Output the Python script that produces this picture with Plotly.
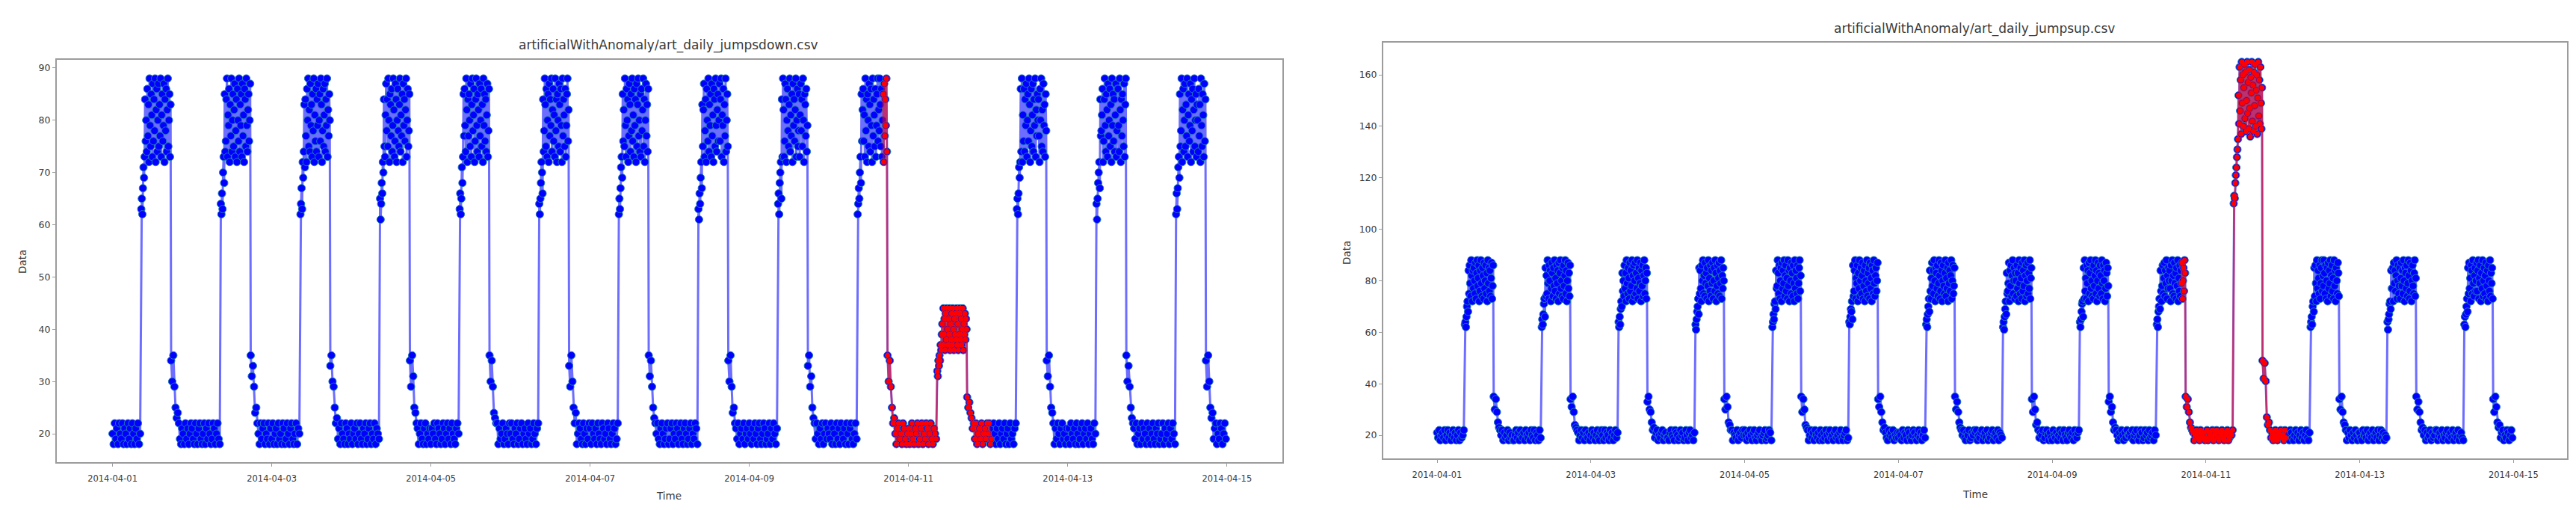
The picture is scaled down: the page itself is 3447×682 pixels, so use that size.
import pandas as pd
import plotly.graph_objects as go

# ---------------- data ----------------
days = ["2014-04-01", "2014-04-02", "2014-04-03", "2014-04-04", "2014-04-05", "2014-04-06", "2014-04-07",
        "2014-04-08", "2014-04-09", "2014-04-10", "2014-04-11", "2014-04-12", "2014-04-13", "2014-04-14"]
# sampling schedule within a day (minutes after midnight): 20-min steps at night, 10-min steps in the busy hours
sample_minutes = list(range(0, 501, 20)) + list(range(520, 1051, 10)) + list(range(1060, 1421, 20))
anomaly_start = "2014-04-10 16:20"
anomaly_end = "2014-04-12 01:00"
tick_labels = ["2014-04-01", "2014-04-03", "2014-04-05", "2014-04-07", "2014-04-09", "2014-04-11",
               "2014-04-13", "2014-04-15"]
left_yticks = [20, 30, 40, 50, 60, 70, 80, 90]
right_yticks = [20, 40, 60, 80, 100, 120, 140, 160]
title_left = "artificialWithAnomaly/art_daily_jumpsdown.csv"
title_right = "artificialWithAnomaly/art_daily_jumpsup.csv"

# art_daily_jumpsdown (one list per day)
jd_0401 = [20, 18, 22, 19, 21, 18, 22, 20, 19, 22, 18, 21, 20,
           18, 22, 19, 21, 18, 22, 20, 18, 21, 19, 22, 18, 20,
           63, 65, 62, 67, 71, 69, 73, 84, 76,
           80, 74, 86, 77, 83, 72, 88, 79, 75, 85, 81, 73, 87, 76, 84,
           78, 88, 72, 82, 86, 74, 80, 87, 75, 83, 77, 88, 73, 81, 85,
           76, 79, 87, 72, 84, 78, 86, 74, 82, 88, 75, 80, 85, 73, 83,
           34, 30, 35, 29, 25, 23, 24,
           22, 19, 18, 21, 20, 18, 22, 19, 21, 18, 20, 22]
jd_0402 = [21, 19, 18, 22, 20, 18, 21, 22, 19, 18, 20, 22, 18,
           21, 19, 22, 20, 18, 19, 22, 21, 18, 20, 22, 19, 18,
           64, 62, 66, 63, 70, 73, 68, 85, 74,
           76, 84, 88, 73, 81, 79, 86, 72, 83, 77, 88, 74, 80, 85, 75,
           82, 87, 73, 78, 84, 72, 86, 80, 76, 88, 74, 83, 79, 85, 73,
           87, 77, 81, 72, 86, 84, 75, 88, 79, 74, 82, 85, 76, 80, 87,
           35, 31, 33, 29, 24, 25, 22,
           20, 18, 22, 19, 21, 22, 18, 20, 19, 22, 18, 21]
jd_0403 = [19, 22, 18, 20, 21, 18, 22, 19, 20, 18, 22, 21, 18,
           19, 22, 20, 18, 21, 22, 19, 18, 20, 22, 18, 21, 20,
           62, 64, 67, 63, 72, 69, 74, 83, 71,
           84, 77, 72, 86, 80, 88, 75, 82, 74, 87, 79, 83, 73, 85, 78,
           88, 72, 81, 76, 86, 74, 84, 79, 87, 73, 80, 85, 76, 88, 83,
           72, 78, 86, 75, 81, 87, 74, 84, 79, 88, 73, 82, 77, 85, 80,
           33, 35, 30, 29, 25, 22, 23,
           19, 21, 18, 22, 20, 19, 18, 22, 21, 18, 20, 19]
jd_0404 = [22, 18, 20, 21, 19, 22, 18, 20, 22, 19, 18, 21, 20,
           22, 18, 19, 21, 22, 18, 20, 19, 22, 18, 21, 20, 19,
           65, 61, 64, 68, 66, 72, 70, 84, 75,
           73, 81, 87, 78, 84, 75, 88, 80, 72, 85, 83, 77, 86, 74, 79,
           88, 82, 73, 76, 87, 84, 72, 80, 86, 78, 75, 83, 88, 74, 81,
           77, 85, 72, 87, 79, 84, 76, 82, 88, 73, 80, 86, 75, 78, 85,
           34, 29, 35, 31, 25, 24, 22,
           21, 18, 20, 22, 19, 18, 21, 22, 18, 20, 19, 21]
jd_0405 = [18, 21, 20, 22, 19, 18, 22, 21, 20, 18, 19, 22, 21,
           18, 20, 22, 19, 21, 18, 22, 20, 19, 18, 21, 22, 20,
           63, 66, 62, 65, 71, 68, 73, 85, 77,
           86, 79, 74, 88, 82, 72, 84, 77, 85, 80, 75, 87, 73, 83, 88,
           78, 81, 86, 72, 76, 84, 88, 79, 74, 85, 82, 73, 87, 77, 80,
           86, 75, 83, 72, 88, 79, 85, 76, 84, 74, 81, 87, 73, 78, 86,
           35, 30, 34, 29, 24, 23, 22,
           22, 18, 21, 19, 20, 22, 18, 19, 21, 20, 18, 22]
jd_0406 = [20, 22, 19, 18, 21, 20, 22, 18, 19, 21, 22, 18, 20,
           21, 19, 18, 22, 20, 21, 18, 19, 22, 20, 18, 21, 22,
           64, 62, 65, 68, 72, 70, 66, 84, 74,
           78, 88, 83, 75, 86, 73, 80, 85, 72, 87, 77, 84, 79, 88, 74,
           82, 86, 76, 81, 73, 88, 78, 84, 72, 85, 80, 75, 87, 83, 74,
           86, 79, 72, 88, 77, 84, 81, 75, 86, 73, 79, 85, 88, 76, 82,
           33, 29, 35, 30, 25, 22, 24,
           18, 20, 22, 21, 19, 18, 22, 20, 18, 21, 19, 22]
jd_0407 = [21, 18, 22, 20, 19, 21, 18, 22, 20, 19, 18, 22, 21,
           19, 20, 18, 22, 21, 19, 18, 20, 22, 21, 18, 19, 22,
           62, 65, 63, 67, 71, 73, 69, 85, 76,
           82, 75, 88, 79, 73, 86, 80, 84, 72, 77, 87, 83, 74, 85, 78,
           88, 76, 81, 73, 86, 79, 84, 72, 87, 75, 83, 88, 77, 80, 74,
           85, 73, 86, 78, 82, 88, 75, 84, 72, 80, 87, 77, 83, 74, 86,
           35, 31, 34, 29, 25, 23, 22,
           20, 22, 19, 18, 21, 22, 20, 18, 19, 21, 22, 18]
jd_0408 = [19, 21, 22, 18, 20, 19, 22, 21, 18, 20, 22, 19, 18,
           21, 22, 20, 18, 19, 21, 22, 18, 20, 19, 22, 21, 18,
           63, 61, 66, 64, 69, 72, 67, 83, 75,
           82, 87, 73, 78, 84, 72, 86, 80, 76, 88, 74, 83, 79, 85, 73,
           87, 77, 81, 72, 86, 84, 75, 88, 79, 74, 82, 85, 76, 80, 87,
           76, 84, 88, 73, 81, 79, 86, 72, 83, 77, 88, 74, 80, 85, 75,
           34, 30, 35, 29, 24, 25, 22,
           21, 19, 22, 18, 20, 21, 19, 22, 18, 20, 21, 19]
jd_0409 = [22, 20, 18, 21, 19, 22, 20, 18, 21, 22, 19, 18, 20,
           22, 21, 18, 19, 20, 22, 18, 21, 19, 22, 20, 18, 21,
           64, 66, 62, 68, 70, 72, 65, 84, 73,
           88, 82, 73, 76, 87, 84, 72, 80, 86, 78, 75, 83, 88, 74, 81,
           77, 85, 72, 87, 79, 84, 76, 82, 88, 73, 80, 86, 75, 78, 85,
           73, 81, 87, 78, 84, 75, 88, 80, 72, 85, 83, 77, 86, 74, 79,
           33, 35, 29, 31, 25, 23, 22,
           19, 22, 20, 18, 21, 19, 22, 18, 20, 22, 19, 21]
jd_0410 = [20, 19, 22, 18, 21, 20, 18, 22, 19, 21, 18, 22, 20,
           19, 21, 18, 22, 20, 18, 21, 22, 19, 18, 20, 22, 19,
           62, 64, 67, 65, 70, 73, 68, 85, 76,
           82, 86, 76, 81, 73, 88, 78, 84, 72, 85, 80, 75, 87, 83, 74,
           86, 79, 72, 88, 77, 84, 81, 75, 86, 73, 79, 85, 88, 76, 82,
           78, 88, 83, 75, 86, 73, 80, 85, 72, 87, 77, 84, 79, 88, 74,
           35, 30, 34, 29, 25, 22, 23,
           20, 18, 21, 22, 19, 20, 18, 22, 21, 19, 18, 20]
jd_0411 = [21, 18, 20, 22, 19, 18, 21, 20, 22, 18, 19, 21, 22,
           18, 20, 19, 22, 21, 18, 20, 22, 19, 18, 21, 20, 19,
           32, 31, 34, 33, 35, 34, 37, 36, 39,
           41, 37, 44, 39, 42, 36, 43, 38, 44, 40, 37, 42, 39, 44, 36,
           41, 38, 43, 37, 44, 40, 36, 42, 39, 43, 38, 44, 37, 41, 36,
           43, 39, 44, 38, 42, 37, 40, 44, 36, 41, 39, 43, 38, 42, 40,
           27, 25, 26, 24, 23, 21, 22,
           19, 22, 18, 20, 21, 19, 22, 18, 20, 21, 19, 22]
jd_0412 = [20, 22, 18, 19, 21, 22, 20, 18, 21, 19, 22, 18, 20,
           21, 19, 22, 18, 20, 21, 18, 22, 19, 20, 18, 21, 22,
           63, 65, 62, 66, 71, 69, 72, 86, 74,
           88, 72, 81, 76, 86, 74, 84, 79, 87, 73, 80, 85, 76, 88, 83,
           72, 78, 86, 75, 81, 87, 74, 84, 79, 88, 73, 82, 77, 85, 80,
           84, 77, 72, 86, 80, 88, 75, 82, 74, 87, 79, 83, 73, 85, 78,
           34, 31, 35, 29, 25, 24, 22,
           18, 21, 19, 22, 20, 18, 21, 22, 19, 20, 18, 21]
jd_0413 = [19, 21, 18, 22, 20, 19, 21, 18, 22, 20, 18, 19, 21,
           22, 18, 20, 21, 19, 22, 18, 20, 21, 19, 18, 22, 20,
           64, 61, 65, 68, 70, 72, 67, 84, 77,
           78, 81, 86, 72, 76, 84, 88, 79, 74, 85, 82, 73, 87, 77, 80,
           86, 75, 83, 72, 88, 79, 85, 76, 84, 74, 81, 87, 73, 78, 86,
           86, 79, 74, 88, 82, 72, 84, 77, 85, 80, 75, 87, 73, 83, 88,
           35, 30, 33, 29, 25, 23, 22,
           21, 19, 22, 18, 20, 21, 18, 22, 19, 21, 20, 18]
jd_0414 = [22, 19, 21, 18, 20, 22, 19, 18, 21, 20, 22, 18, 19,
           20, 22, 18, 21, 19, 20, 22, 18, 21, 19, 22, 20, 18,
           62, 66, 63, 67, 71, 73, 69, 85, 75,
           78, 88, 72, 82, 86, 74, 80, 87, 75, 83, 77, 88, 73, 81, 85,
           76, 79, 87, 72, 84, 78, 86, 74, 82, 88, 75, 80, 85, 73, 83,
           80, 74, 86, 77, 83, 72, 88, 79, 75, 85, 81, 73, 87, 76, 84,
           34, 29, 35, 30, 25, 23, 24,
           19, 21, 22, 18, 20, 19, 22, 21, 18, 20, 22, 19]

# art_daily_jumpsup (one list per day)
ju_0401 = [21, 19, 22, 18, 20, 21, 19, 22, 18, 20, 22, 19, 21,
           18, 20, 22, 19, 21, 18, 20, 22, 18, 21, 19, 20, 22,
           63, 64, 62, 66, 70, 72, 68, 84, 75,
           86, 79, 74, 88, 82, 72, 84, 77, 85, 80, 75, 87, 73, 83, 88,
           78, 81, 86, 72, 76, 84, 88, 79, 74, 85, 82, 73, 87, 77, 80,
           86, 75, 83, 72, 88, 79, 85, 76, 84, 74, 81, 87, 73, 78, 86,
           35, 30, 34, 29, 25, 23, 22,
           20, 22, 18, 21, 19, 20, 22, 18, 21, 19, 20, 18]
ju_0402 = [18, 20, 22, 19, 21, 18, 22, 20, 19, 21, 18, 22, 20,
           19, 21, 18, 22, 20, 19, 22, 18, 21, 20, 18, 22, 19,
           62, 65, 63, 67, 71, 73, 66, 85, 74,
           82, 75, 88, 79, 73, 86, 80, 84, 72, 77, 87, 83, 74, 85, 78,
           88, 76, 81, 73, 86, 79, 84, 72, 87, 75, 83, 88, 77, 80, 74,
           85, 73, 86, 78, 82, 88, 75, 84, 72, 80, 87, 77, 83, 74, 86,
           34, 31, 35, 29, 24, 23, 22,
           21, 18, 20, 22, 19, 21, 18, 22, 20, 19, 21, 18]
ju_0403 = [20, 22, 19, 21, 18, 20, 22, 19, 18, 21, 22, 20, 18,
           22, 19, 21, 20, 18, 22, 19, 21, 18, 20, 22, 19, 21,
           64, 62, 66, 63, 69, 72, 70, 83, 76,
           80, 74, 86, 77, 83, 72, 88, 79, 75, 85, 81, 73, 87, 76, 84,
           78, 88, 72, 82, 86, 74, 80, 87, 75, 83, 77, 88, 73, 81, 85,
           76, 79, 87, 72, 84, 78, 86, 74, 82, 88, 75, 80, 85, 73, 83,
           33, 35, 30, 29, 25, 22, 23,
           19, 21, 22, 18, 20, 19, 21, 22, 18, 20, 21, 19]
ju_0404 = [19, 18, 21, 22, 20, 19, 18, 22, 21, 20, 18, 19, 22,
           20, 21, 18, 19, 22, 20, 18, 21, 22, 19, 20, 18, 21,
           63, 61, 65, 68, 70, 73, 67, 85, 75,
           84, 77, 72, 86, 80, 88, 75, 82, 74, 87, 79, 83, 73, 85, 78,
           88, 72, 81, 76, 86, 74, 84, 79, 87, 73, 80, 85, 76, 88, 83,
           72, 78, 86, 75, 81, 87, 74, 84, 79, 88, 73, 82, 77, 85, 80,
           34, 30, 35, 31, 25, 24, 22,
           22, 18, 21, 20, 19, 22, 18, 20, 21, 19, 22, 20]
ju_0405 = [22, 20, 18, 21, 19, 22, 20, 18, 21, 22, 19, 18, 20,
           21, 22, 19, 18, 20, 21, 22, 18, 19, 20, 22, 21, 18,
           62, 64, 67, 65, 71, 72, 69, 84, 77,
           78, 88, 83, 75, 86, 73, 80, 85, 72, 87, 77, 84, 79, 88, 74,
           82, 86, 76, 81, 73, 88, 78, 84, 72, 85, 80, 75, 87, 83, 74,
           86, 79, 72, 88, 77, 84, 81, 75, 86, 73, 79, 85, 88, 76, 82,
           35, 29, 34, 30, 24, 23, 22,
           18, 20, 22, 19, 21, 18, 22, 20, 19, 21, 18, 22]
ju_0406 = [20, 18, 21, 19, 22, 20, 18, 21, 22, 19, 20, 18, 21,
           22, 19, 20, 18, 21, 22, 19, 18, 20, 21, 22, 18, 19,
           64, 63, 66, 69, 68, 72, 65, 86, 74,
           76, 84, 88, 73, 81, 79, 86, 72, 83, 77, 88, 74, 80, 85, 75,
           82, 87, 73, 78, 84, 72, 86, 80, 76, 88, 74, 83, 79, 85, 73,
           87, 77, 81, 72, 86, 84, 75, 88, 79, 74, 82, 85, 76, 80, 87,
           34, 31, 35, 29, 25, 22, 23,
           21, 19, 18, 22, 20, 21, 19, 22, 18, 20, 19, 21]
ju_0407 = [19, 21, 20, 18, 22, 19, 21, 20, 18, 22, 21, 19, 18,
           20, 22, 21, 19, 18, 20, 22, 19, 21, 18, 20, 22, 19,
           63, 65, 62, 67, 70, 73, 68, 84, 76,
           73, 81, 87, 78, 84, 75, 88, 80, 72, 85, 83, 77, 86, 74, 79,
           88, 82, 73, 76, 87, 84, 72, 80, 86, 78, 75, 83, 88, 74, 81,
           77, 85, 72, 87, 79, 84, 76, 82, 88, 73, 80, 86, 75, 78, 85,
           35, 30, 33, 29, 25, 23, 22,
           20, 22, 19, 18, 21, 20, 22, 18, 19, 21, 20, 22]
ju_0408 = [21, 22, 18, 20, 19, 21, 22, 18, 20, 21, 19, 22, 18,
           20, 19, 21, 22, 18, 20, 21, 19, 22, 18, 21, 20, 19,
           62, 64, 61, 66, 69, 72, 67, 83, 75,
           76, 79, 87, 72, 84, 78, 86, 74, 82, 88, 75, 80, 85, 73, 83,
           80, 74, 86, 77, 83, 72, 88, 79, 75, 85, 81, 73, 87, 76, 84,
           78, 88, 72, 82, 86, 74, 80, 87, 75, 83, 77, 88, 73, 81, 85,
           34, 29, 35, 30, 24, 25, 22,
           19, 21, 20, 22, 18, 19, 21, 22, 20, 18, 21, 19]
ju_0409 = [18, 22, 20, 19, 21, 18, 20, 22, 19, 21, 18, 22, 20,
           19, 18, 21, 22, 20, 19, 21, 18, 22, 20, 19, 21, 22,
           64, 62, 65, 68, 71, 72, 66, 85, 73,
           88, 76, 81, 73, 86, 79, 84, 72, 87, 75, 83, 88, 77, 80, 74,
           85, 73, 86, 78, 82, 88, 75, 84, 72, 80, 87, 77, 83, 74, 86,
           82, 75, 88, 79, 73, 86, 80, 84, 72, 77, 87, 83, 74, 85, 78,
           33, 35, 29, 31, 25, 22, 23,
           22, 20, 18, 21, 19, 22, 20, 18, 21, 19, 22, 20]
ju_0410 = [20, 21, 19, 22, 18, 20, 21, 22, 19, 18, 20, 22, 21,
           18, 19, 22, 20, 21, 18, 22, 19, 20, 21, 18, 22, 20,
           63, 65, 62, 68, 70, 73, 69, 84, 76,
           72, 78, 86, 75, 81, 87, 74, 84, 79, 88, 73, 82, 77, 85, 80,
           84, 77, 72, 86, 80, 88, 75, 82, 74, 87, 79, 83, 73, 85, 78,
           88, 72, 81, 76, 86, 74, 84, 79, 87, 73, 80, 85, 76, 88, 83,
           35, 31, 34, 29, 25, 23, 22,
           21, 18, 20, 22, 19, 21, 18, 22, 20, 19, 21, 18]
ju_0411 = [19, 22, 18, 21, 20, 19, 22, 18, 20, 21, 22, 19, 18,
           21, 20, 22, 19, 18, 21, 20, 22, 18, 19, 21, 20, 22,
           110, 113, 112, 118, 121, 124, 128, 131, 135,
           152, 141, 163, 146, 158, 137, 165, 149, 160, 140, 155, 164, 143, 161, 138,
           150, 165, 145, 157, 139, 162, 147, 136, 159, 153, 165, 142, 156, 138, 161,
           148, 164, 140, 154, 160, 137, 151, 165, 144, 158, 141, 163, 149, 139, 155,
           49, 42, 48, 41, 27, 24, 25,
           22, 19, 21, 18, 20, 22, 19, 18, 21, 20, 22, 19]
ju_0412 = [20, 18, 22, 19, 21, 20, 18, 22, 21, 19, 18, 20, 22,
           19, 21, 18, 20, 22, 19, 21, 18, 20, 22, 19, 18, 21,
           62, 64, 66, 63, 70, 72, 68, 85, 74,
           86, 79, 72, 88, 77, 84, 81, 75, 86, 73, 79, 85, 88, 76, 82,
           78, 88, 83, 75, 86, 73, 80, 85, 72, 87, 77, 84, 79, 88, 74,
           82, 86, 76, 81, 73, 88, 78, 84, 72, 85, 80, 75, 87, 83, 74,
           34, 30, 35, 29, 25, 24, 22,
           18, 21, 19, 22, 20, 18, 21, 19, 22, 20, 18, 21]
ju_0413 = [21, 19, 18, 22, 20, 21, 19, 22, 18, 20, 21, 19, 22,
           18, 20, 21, 19, 22, 18, 20, 22, 19, 21, 18, 20, 19,
           64, 61, 65, 67, 71, 72, 69, 84, 77,
           77, 85, 72, 87, 79, 84, 76, 82, 88, 73, 80, 86, 75, 78, 85,
           73, 81, 87, 78, 84, 75, 88, 80, 72, 85, 83, 77, 86, 74, 79,
           88, 82, 73, 76, 87, 84, 72, 80, 86, 78, 75, 83, 88, 74, 81,
           35, 30, 33, 29, 25, 22, 23,
           20, 22, 18, 21, 19, 20, 22, 18, 21, 19, 20, 22]
ju_0414 = [22, 18, 20, 21, 19, 22, 18, 20, 19, 21, 22, 18, 20,
           21, 19, 22, 18, 20, 21, 19, 22, 18, 20, 21, 19, 18,
           63, 66, 62, 67, 70, 73, 68, 85, 75,
           87, 77, 81, 72, 86, 84, 75, 88, 79, 74, 82, 85, 76, 80, 87,
           76, 84, 88, 73, 81, 79, 86, 72, 83, 77, 88, 74, 80, 85, 75,
           82, 87, 73, 78, 84, 72, 86, 80, 76, 88, 74, 83, 79, 85, 73,
           34, 29, 35, 31, 25, 23, 24,
           19, 21, 22, 18, 20, 19, 22, 21, 18, 20, 22, 19]

jumpsdown_days = [jd_0401, jd_0402, jd_0403, jd_0404, jd_0405, jd_0406, jd_0407,
                  jd_0408, jd_0409, jd_0410, jd_0411, jd_0412, jd_0413, jd_0414]
jumpsup_days = [ju_0401, ju_0402, ju_0403, ju_0404, ju_0405, ju_0406, ju_0407,
                ju_0408, ju_0409, ju_0410, ju_0411, ju_0412, ju_0413, ju_0414]


def build_series(day_lists):
    stamps, vals = [], []
    for d, lst in zip(days, day_lists):
        t0 = pd.Timestamp(d)
        for m, v in zip(sample_minutes, lst):
            stamps.append(t0 + pd.Timedelta(minutes=m))
            vals.append(v)
    return pd.Series(vals, index=pd.DatetimeIndex(stamps))


s_down = build_series(jumpsdown_days)
s_up = build_series(jumpsup_days)

# ---------------- figure ----------------
W, H = 3447, 682
FONT = "DejaVu Sans"
TXT = "#3a3a3a"
FRAME = "#9c9c9c"


def fx(p):
    return p / W


def fy(p):
    return 1 - p / H


x_range = ["2014-03-31 07:12", "2014-04-15 16:43"]
tick_vals = [pd.Timestamp(t) for t in tick_labels]

fig = go.Figure()


def add_panel(series, xa, ya):
    fig.add_trace(go.Scatter(
        x=series.index, y=series.values, mode="lines+markers",
        line=dict(color="rgba(30,30,255,0.65)", width=3),
        marker=dict(color="#0000ff", size=10, line=dict(color="#1f77b4", width=1)),
        xaxis=xa, yaxis=ya, hoverinfo="skip", showlegend=False))
    anom = series[(series.index >= pd.Timestamp(anomaly_start)) & (series.index <= pd.Timestamp(anomaly_end))]
    fig.add_trace(go.Scatter(
        x=anom.index, y=anom.values, mode="lines+markers",
        line=dict(color="rgba(255,0,0,0.55)", width=2.5),
        marker=dict(color="#ff0000", size=7),
        xaxis=xa, yaxis=ya, hoverinfo="skip", showlegend=False))


add_panel(s_down, "x", "y")
add_panel(s_up, "x2", "y2")

axis_common = dict(showgrid=False, zeroline=False, showline=True, mirror=True, linecolor=FRAME, linewidth=2,
                   ticks="outside", ticklen=4, tickwidth=1, tickcolor=FRAME)
xfont = dict(family=FONT, size=11.5, color=TXT)
yfont = dict(family=FONT, size=12.5, color=TXT)

fig.update_layout(
    width=W, height=H, margin=dict(l=0, r=0, t=0, b=0),
    paper_bgcolor="white", plot_bgcolor="white", showlegend=False,
    xaxis=dict(domain=[fx(68), fx(1708)], anchor="y", type="date", range=x_range,
               tickvals=tick_vals, ticktext=tick_labels, ticklabelstandoff=6, tickfont=xfont, **axis_common),
    yaxis=dict(domain=[fy(610), fy(72)], anchor="x", range=[14.56, 91.57], tickvals=left_yticks,
               tickfont=yfont, **axis_common),
    xaxis2=dict(domain=[fx(1843), fx(3427)], anchor="y2", type="date", range=x_range,
                tickvals=tick_vals, ticktext=tick_labels, ticklabelstandoff=6, tickfont=xfont, **axis_common),
    yaxis2=dict(domain=[fy(605), fy(49)], anchor="x2", range=[11.0, 172.5], tickvals=right_yticks,
                tickfont=yfont, **axis_common),
)

annots = [
    (title_left, 886, 52, 0, 17),
    (title_right, 2634, 31, 0, 17),
    ("Time", 887, 655, 0, 13.5),
    ("Time", 2635, 653, 0, 13.5),
    ("Data", 22, 342, -90, 13.5),
    ("Data", 1794, 330, -90, 13.5),
]
for text, px, py, rot, size in annots:
    fig.add_annotation(text=text, x=fx(px), y=fy(py), xref="paper", yref="paper", showarrow=False,
                       xanchor="center", yanchor="middle", textangle=rot,
                       font=dict(family=FONT, size=size, color=TXT))

fig.write_html("out.html")
